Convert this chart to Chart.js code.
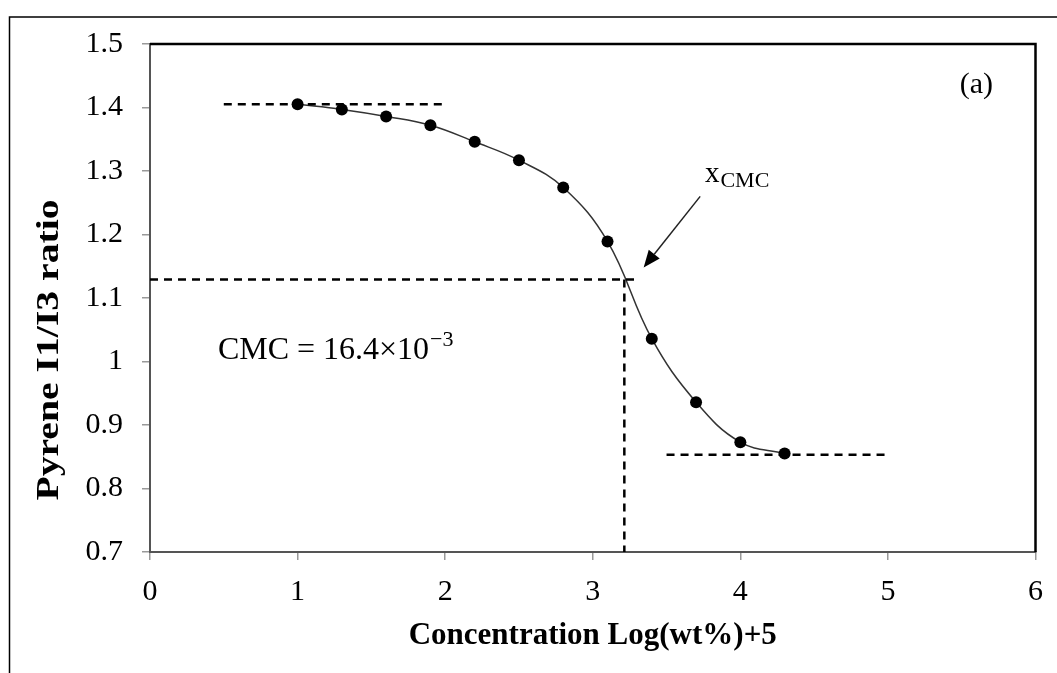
<!DOCTYPE html>
<html>
<head>
<meta charset="utf-8">
<script src="https://cdn.jsdelivr.net/npm/chart.js@4.4.1/dist/chart.umd.min.js"></script>
<style>
  html, body { margin: 0; padding: 0; background: #fff; }
  #wrap { width: 1057px; height: 673px; position: relative; }
</style>
</head>
<body>
<div id="wrap"><canvas id="c" width="1057" height="673"></canvas></div>
<script>
// ---- Data ----
const concentration = [1.0, 1.3, 1.6, 1.9, 2.2, 2.5, 2.8, 3.1, 3.4, 3.7, 4.0, 4.3];
const ratio = [1.405, 1.397, 1.386, 1.372, 1.346, 1.317, 1.274, 1.189, 1.036, 0.936, 0.873, 0.855];

const topPlateauX = [0.5, 2.0];
const topPlateauY = [1.405, 1.405];
const bottomPlateauX = [3.5, 5.0];
const bottomPlateauY = [0.853, 0.853];
const cmcHorizX = [0, 3.31];
const cmcHorizY = [1.129, 1.129];
const cmcVertX = [3.214, 3.214];
const cmcVertY = [1.129, 0.7];

const arrowFrom = [3.728, 1.26];
const arrowTo = [3.345, 1.148];

const xTicks = [0, 1, 2, 3, 4, 5, 6];
const xTickLabels = ["0", "1", "2", "3", "4", "5", "6"];
const yTicks = [0.7, 0.8, 0.9, 1.0, 1.1, 1.2, 1.3, 1.4, 1.5];
const yTickLabels = ["0.7", "0.8", "0.9", "1", "1.1", "1.2", "1.3", "1.4", "1.5"];

const xTitle = "Concentration Log(wt%)+5";
const yTitle = "Pyrene I1/I3 ratio";
const panelLabel = "(a)";
const panelLabelPos = [5.6, 1.436];
const cmcText = "CMC = 16.4×10";
const cmcExp = "−3";
const cmcTextPos = [0.46, 1.004];
const xcmcPos = [3.76, 1.282];

const SERIF = "'Liberation Serif', 'Times New Roman', serif";

function pairs(xs, ys) { return xs.map((x, i) => ({ x: x, y: ys[i] })); }

const dashStyle = {
  borderColor: '#000', borderWidth: 2.5, borderDash: [8, 6],
  pointRadius: 0, fill: false, tension: 0, showLine: true, clip: false
};

const decor = {
  id: 'decor',
  beforeDraw(chart) {
    const ctx = chart.ctx;
    ctx.save();
    ctx.fillStyle = '#fff';
    ctx.fillRect(0, 0, chart.width, chart.height);
    ctx.strokeStyle = '#000';
    ctx.lineWidth = 1.5;
    ctx.beginPath();
    ctx.moveTo(9.5, 673);
    ctx.lineTo(9.5, 17);
    ctx.lineTo(1057, 17);
    ctx.stroke();
    ctx.restore();
  },
  afterDraw(chart) {
    const ctx = chart.ctx;
    const xs = chart.scales.x, ys = chart.scales.y;
    const a = chart.chartArea;
    ctx.save();
    ctx.strokeStyle = '#000';
    ctx.lineWidth = 2.5;
    ctx.beginPath();
    ctx.moveTo(a.left, a.top);
    ctx.lineTo(a.right, a.top);
    ctx.lineTo(a.right, a.bottom);
    ctx.stroke();

    // arrow
    const x1 = xs.getPixelForValue(arrowFrom[0]), y1 = ys.getPixelForValue(arrowFrom[1]);
    const x2 = xs.getPixelForValue(arrowTo[0]), y2 = ys.getPixelForValue(arrowTo[1]);
    const ang = Math.atan2(y2 - y1, x2 - x1);
    const hl = 17, hw = 7;
    const bx = x2 - hl * Math.cos(ang), by = y2 - hl * Math.sin(ang);
    ctx.strokeStyle = '#222';
    ctx.lineWidth = 1.5;
    ctx.beginPath();
    ctx.moveTo(x1, y1);
    ctx.lineTo(bx, by);
    ctx.stroke();
    ctx.fillStyle = '#000';
    ctx.beginPath();
    ctx.moveTo(x2, y2);
    ctx.lineTo(bx + hw * Math.sin(ang), by - hw * Math.cos(ang));
    ctx.lineTo(bx - hw * Math.sin(ang), by + hw * Math.cos(ang));
    ctx.closePath();
    ctx.fill();

    ctx.fillStyle = '#000';
    ctx.textBaseline = 'middle';
    ctx.textAlign = 'center';
    ctx.font = '30px ' + SERIF;
    ctx.fillText(panelLabel, xs.getPixelForValue(panelLabelPos[0]), ys.getPixelForValue(panelLabelPos[1]));

    // xCMC
    ctx.textBaseline = 'alphabetic';
    ctx.textAlign = 'left';
    let px = xs.getPixelForValue(xcmcPos[0]), py = ys.getPixelForValue(xcmcPos[1]);
    ctx.font = '29px ' + SERIF;
    ctx.fillText('x', px, py);
    let w = ctx.measureText('x').width;
    ctx.font = '22px ' + SERIF;
    ctx.fillText('CMC', px + w + 1, py + 5);

    // CMC = ...
    px = xs.getPixelForValue(cmcTextPos[0]); py = ys.getPixelForValue(cmcTextPos[1]);
    ctx.font = '32px ' + SERIF;
    ctx.fillText(cmcText, px, py);
    w = ctx.measureText(cmcText).width;
    ctx.font = '22px ' + SERIF;
    ctx.fillText(cmcExp, px + w + 1, py - 13);

    // axis titles
    ctx.font = 'bold 31px ' + SERIF;
    ctx.textAlign = 'center';
    ctx.textBaseline = 'middle';
    ctx.fillText(xTitle, (a.left + a.right) / 2, 636);
    ctx.save();
    ctx.translate(50, 350);
    ctx.rotate(-Math.PI / 2);
    ctx.scale(1.24, 1);
    ctx.font = 'bold 32px ' + SERIF;
    ctx.fillText(yTitle, 0, 0);
    ctx.restore();
    ctx.restore();
  }
};

new Chart(document.getElementById('c'), {
  type: 'scatter',
  data: {
    datasets: [
      Object.assign({ data: pairs(topPlateauX, topPlateauY) }, dashStyle),
      Object.assign({ data: pairs(bottomPlateauX, bottomPlateauY) }, dashStyle),
      Object.assign({ data: pairs(cmcHorizX, cmcHorizY) }, dashStyle),
      Object.assign({ data: pairs(cmcVertX, cmcVertY) }, dashStyle),
      {
        data: pairs(concentration, ratio),
        showLine: true,
        borderColor: '#333',
        borderWidth: 1.5,
        tension: 0.4,
        pointRadius: 6,
        pointBackgroundColor: '#000',
        pointBorderColor: '#000',
        pointBorderWidth: 0,
        fill: false,
        clip: false
      }
    ]
  },
  plugins: [decor],
  options: {
    responsive: false,
    animation: false,
    events: [],
    layout: { padding: { left: 0, top: 44, right: 20, bottom: 0 } },
    plugins: { legend: { display: false }, tooltip: { enabled: false } },
    scales: {
      x: {
        type: 'linear', min: 0, max: 6,
        afterBuildTicks: s => { s.ticks = xTicks.map(v => ({ value: v })); },
        afterFit: s => { s.height = 673 - 552; },
        ticks: {
          callback: (v, i) => xTickLabels[i],
          color: '#000', padding: 14,
          font: { family: SERIF, size: 30 }
        },
        grid: { drawOnChartArea: false, drawTicks: true, tickLength: 8, color: '#999', lineWidth: 1.5 },
        border: { display: true, color: '#555', width: 2 }
      },
      y: {
        type: 'linear', min: 0.7, max: 1.5,
        afterBuildTicks: s => { s.ticks = yTicks.map(v => ({ value: v })); },
        afterFit: s => { s.width = 150; },
        ticks: {
          callback: (v, i) => yTickLabels[i],
          color: '#000', padding: 19,
          font: { family: SERIF, size: 30 }
        },
        grid: { drawOnChartArea: false, drawTicks: true, tickLength: 8, color: '#999', lineWidth: 1.5 },
        border: { display: true, color: '#555', width: 2 }
      }
    }
  }
});
</script>
</body>
</html>
